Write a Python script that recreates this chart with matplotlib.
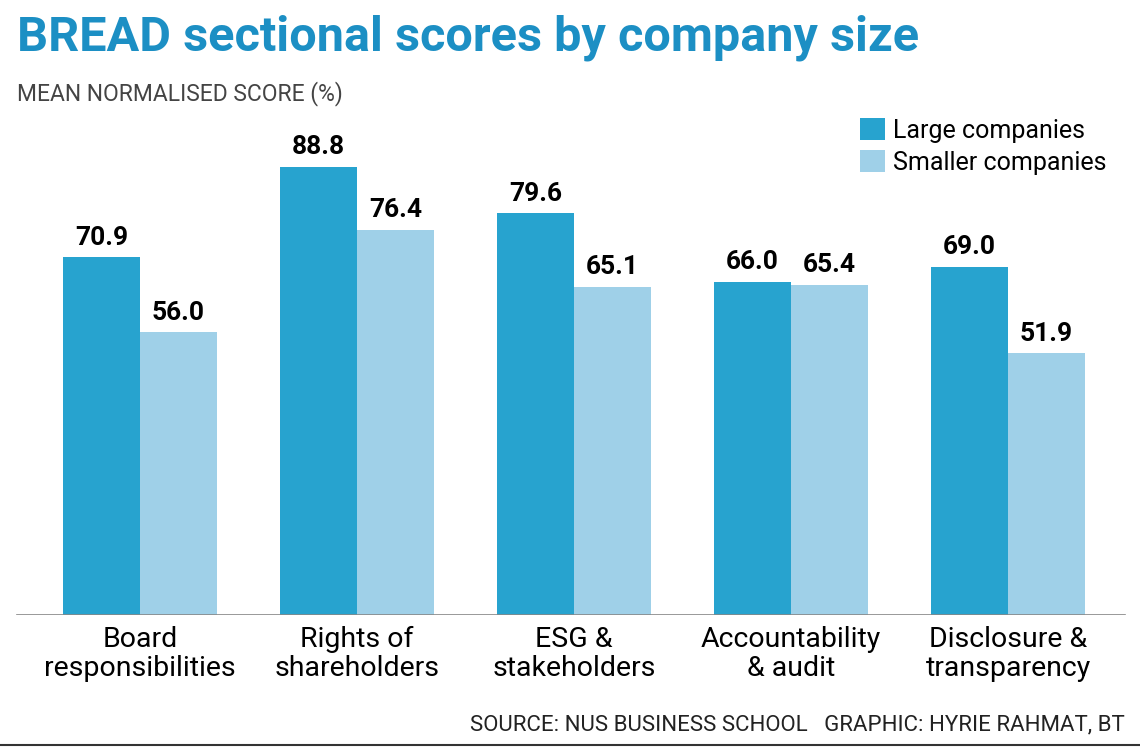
import numpy as np
import matplotlib.pyplot as plt

categories = ["Board\nresponsibilities", "Rights of\nshareholders", "ESG &\nstakeholders",
              "Accountability\n& audit", "Disclosure &\ntransparency"]
large = [70.9, 88.8, 79.6, 66.0, 69.0]
smaller = [56.0, 76.4, 65.1, 65.4, 51.9]

c_large = "#27a3cf"
c_small = "#9fd0e8"

plt.rcParams['font.family'] = ['Roboto', 'DejaVu Sans']
fig = plt.figure(figsize=(11.4, 7.53), dpi=100)
ax = fig.add_axes([0, 0.1833, 1, 0.670])

x = np.arange(len(categories))
w = 77 / 217
ax.bar(x - w / 2, large, w, color=c_large, label="Large companies")
ax.bar(x + w / 2, smaller, w, color=c_small, label="Smaller companies")
for xi, v in zip(x, large):
    ax.text(xi - w / 2, v + 1.5, f"{v:.1f}", ha='center', va='bottom', fontsize=19, fontweight='bold')
for xi, v in zip(x, smaller):
    ax.text(xi + w / 2, v + 1.5, f"{v:.1f}", ha='center', va='bottom', fontsize=19, fontweight='bold')

ax.set_xlim(-140 / 217, 1000 / 217)
ax.set_ylim(0, 100)
ax.axhline(0, xmin=17 / 1140, xmax=1125 / 1140, color='#888888', lw=1.2)
for s in ax.spines.values():
    s.set_visible(False)
ax.set_yticks([])
ax.set_xticks(x)
ax.set_xticklabels(categories, fontsize=20.5, linespacing=1.1)
ax.tick_params(axis='x', length=0, pad=8)

leg = ax.legend(loc='upper right', bbox_to_anchor=(0.99, 1.03), frameon=False, fontsize=18,
                handlelength=1.0, handleheight=1.0, handletextpad=0.3, labelspacing=0.3)

fig.text(17 / 1140, 1 - 38 / 753, "BREAD sectional scores by company size", fontsize=35,
         fontweight='bold', color='#1c8fc4', va='center')
fig.text(17 / 1140, 1 - 94 / 753, "MEAN NORMALISED SCORE (%)", fontsize=16.5, color='#444444', va='center')
fig.text(1125 / 1140, 1 - 725 / 753, "SOURCE: NUS BUSINESS SCHOOL   GRAPHIC: HYRIE RAHMAT, BT",
         fontsize=16, color='#222222', ha='right', va='center')
fig.add_artist(plt.Line2D([0, 1], [1 - 745 / 753] * 2, color='#333333', lw=1.5))

fig.savefig("out.png", dpi=100)
